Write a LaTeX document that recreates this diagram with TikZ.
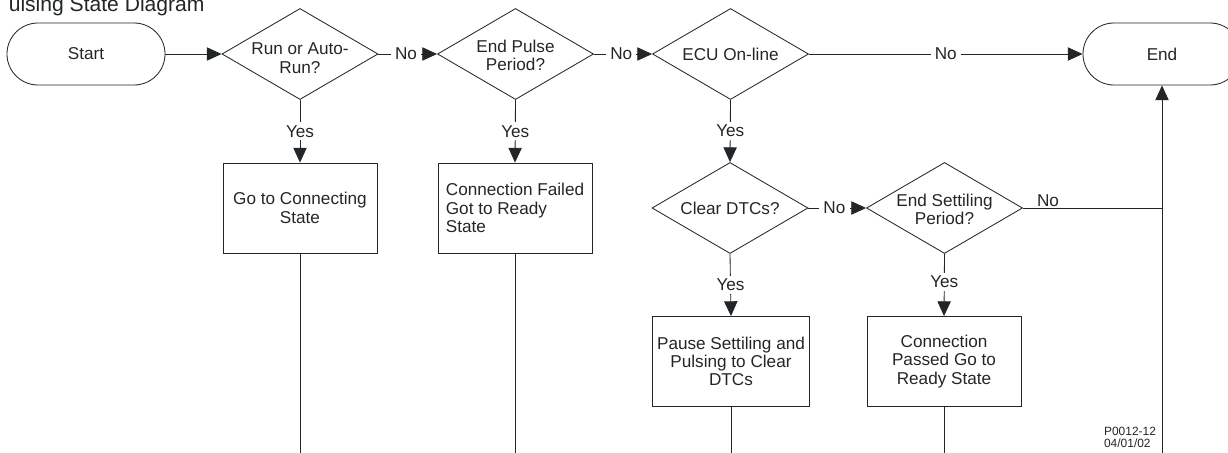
\documentclass[tikz,border=0pt]{standalone}
\usepackage{fontspec}
\setmainfont{Liberation Sans}
\usetikzlibrary{shapes.geometric,arrows.meta}
\definecolor{ink}{RGB}{35,38,40}
\newcommand{\flowfont}{\fontsize{12.2}{13}\selectfont}
% two lines set a little below the middle of a diamond
\newcommand{\lowpair}[3]{\raisebox{-#1}[\height][\depth]{\begin{tabular}{@{}c@{}}#2\\#3\end{tabular}}}
\tikzset{
	term/.style={draw=ink,line width=0.6pt,rounded corners=0.775cm,minimum width=3.95cm,minimum height=1.55cm,font=\flowfont,text=ink},
	decide/.style={draw=ink,line width=0.6pt,diamond,aspect=1.714,inner sep=-1pt,minimum width=3.9cm,minimum height=2.275cm,align=center,font=\flowfont,text=ink},
	stepbox/.style={draw=ink,line width=0.6pt,rectangle,minimum width=3.85cm,minimum height=2.25cm,font=\flowfont,text=ink},
	lbl/.style={fill=white,inner xsep=3pt,inner ysep=2pt,font=\flowfont,text=ink},
	wire/.style={draw=ink,line width=0.6pt},
	flow/.style={wire,-{Triangle[length=10.5pt,width=9.5pt]}},
}
\begin{document}
\begin{tikzpicture}[x=0.025cm,y=-0.025cm]
		\useasboundingbox (0,0) rectangle (1228,453);
		\node[anchor=base west,inner sep=0pt,font=\fontsize{15}{18}\selectfont,text=ink] (title) at (8.5,12) {ulsing State Diagram};
		% top row
		\node[term] (start) at (86,54) {Start};
		\node[decide] (run) at (300,54) {\lowpair{4.5pt}{Run or Auto-}{Run?}};
		\node[decide] (pulse) at (515.5,54) {\lowpair{2.5pt}{End Pulse}{Period?}};
		\node[decide] (ecu) at (730.5,54) {ECU On-line};
		\node[term] (end) at (1162,54) {End};
		% second row
		\node[stepbox,align=center] (connect) at (300,208) {Go to Connecting\\State};
		\node[stepbox,align=left] (failed) at (515,208) {Connection Failed\\Got to Ready\\State};
		\node[decide] (clear) at (730,208) {Clear DTCs?};
		\node[decide] (settle) at (944.5,208) {\lowpair{2.5pt}{End Settiling}{Period?}};
		% third row
		\node[stepbox,align=center] (pause) at (731,361.5) {Pause Settiling and\\Pulsing to Clear\\DTCs};
		\node[stepbox,align=center] (passed) at (944,361.5) {Connection\\Passed Go to\\Ready State};
		\node[align=left,inner sep=0pt,font=\fontsize{8.5}{8.4}\selectfont,text=ink] (ref) at (1130,437) {P0012-12\\04/01/02};
		\coordinate (rail) at (1162,453);
		% connectors
		\draw[flow] (start) -- (run);
		\draw[flow] (run.east) -- (pulse.west) node[lbl,pos=0.47] {No};
		\draw[flow] (pulse.east) -- (ecu.west) node[lbl,pos=0.47] {No};
		\draw[flow] (ecu.east) -- (end.west) node[lbl,pos=0.5] {No};
		\draw[flow] (run.south) -- (connect.north) node[lbl,pos=0.5] {Yes};
		\draw[flow] (pulse.south) -- (failed.north) node[lbl,pos=0.5] {Yes};
		\draw[flow] (ecu.south) -- (clear.north) node[lbl,pos=0.5] {Yes};
		\draw[flow] (clear.east) -- (settle.west) node[lbl,pos=0.45] {No};
		\draw[flow] (clear.south) -- (pause.north) node[lbl,pos=0.5] {Yes};
		\draw[flow] (settle.south) -- (passed.north) node[lbl,pos=0.45] {Yes};
		\draw[wire] (settle.east) -- (settle.east -| rail) node[pos=0.18,above,inner sep=1pt,font=\flowfont,text=ink] {No};
		\draw[flow] (rail) -- (end.south);
		\draw[wire] (connect.south) -- (connect.south |- rail);
		\draw[wire] (failed.south) -- (failed.south |- rail);
		\draw[wire] (pause.south) -- (pause.south |- rail);
		\draw[wire] (passed.south) -- (passed.south |- rail);
\end{tikzpicture}
\end{document}
